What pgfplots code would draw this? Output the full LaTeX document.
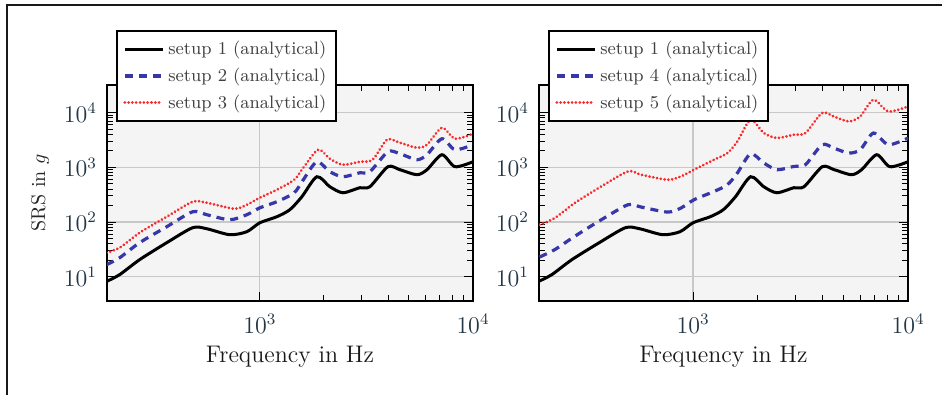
\documentclass[border=0pt]{standalone}
\usepackage{pgfplots}
\pgfplotsset{compat=1.18}
\definecolor{bgc}{RGB}{244,244,244}
\definecolor{gridc}{RGB}{200,200,200}
\definecolor{tickc}{RGB}{35,55,70}
\definecolor{sblue}{RGB}{55,55,170}
\definecolor{sred}{RGB}{250,40,40}
\tikzset{
  sone/.style={black, line width=1.5pt, smooth, tension=0.45},
  stwo/.style={sblue, line width=1.6pt, dash pattern=on 4pt off 3pt, smooth, tension=0.45},
  sthree/.style={sred, line width=1.5pt, dash pattern=on 0.01pt off 1.9pt, line cap=round, smooth, tension=0.45},
}
\pgfplotsset{every axis/.append style={
    scale only axis,
    height=108pt,
    xmin=192, xmax=10000,
    ymin=3.6, ymax=32000,
    axis line style={line width=1pt},
    axis background/.style={fill=bgc},
    grid=major,
    major grid style={gridc, line width=0.6pt},
    xtick={1000,10000},
    ytick={10,100,1000,10000},
    tick style={black, line width=0.5pt},
    ticklabel style={font=\large, text=tickc},
    xticklabel shift=3pt,
    yticklabel shift=1.5pt,
    xlabel={Frequency in Hz},
    xlabel style={font=\large, at={(axis description cs:0.5,0)}, anchor=center, yshift=-28pt, text=black!90},
    legend style={at={(0.025,1.255)}, anchor=north west, font=\small, draw=black, line width=1pt, fill=white, row sep=1.2pt, inner xsep=3pt, inner ysep=3pt, text=black!75, cells={anchor=west}},
    legend image code/.code={\draw[#1] (0pt,0pt) -- (19pt,0pt);},
}}
\begin{document}
\begin{tikzpicture}
\path[use as bounding box] (0,0) rectangle (471pt,197.5pt);
\draw[line width=1pt, black!90] (3.5pt,0) -- (3.5pt,195pt) -- (471pt,195pt);

\begin{loglogaxis}[at={(53.5pt,47pt)}, anchor=south west, width=183pt,
  ylabel={SRS in $g$},
  ylabel style={at={(axis description cs:-0.183,0.5)}, anchor=center, text=black!85}]
\addplot[sone] coordinates {
(191,8.2) (220,10.9) (273,20.5) (366,41.9) (484,78.7) (564,75.4) (723,58.6) (869,66.5)
(1000,97) (1202,125) (1383,168) (1575,290) (1852,673) (2132,442) (2453,343) (2946,424)
(3283,442) (3990,1026) (4541,904) (5458,733) (6081,904) (7148,1700) (8228,1026) (10000,1265)};
\addlegendentry{setup 1 (analytical)}
\addplot[stwo] coordinates {
(191,16.6) (220,22.2) (273,41.9) (366,82) (484,154) (564,136) (723,110) (869,136)
(1000,182) (1202,235) (1450,343) (1600,593) (1852,1265) (2132,831) (2453,673) (2946,796)
(3283,831) (3990,1928) (4541,1774) (5458,1377) (6081,1700) (7148,3334) (8228,2100) (10000,2588)};
\addlegendentry{setup 2 (analytical)}
\addplot[sthree] coordinates {
(191,27.5) (220,33.9) (273,63.7) (366,125) (484,235) (564,225) (760,175) (869,207)
(1000,278) (1202,389) (1450,593) (1600,984) (1880,2100) (2132,1436) (2453,1116) (2946,1265)
(3380,1377) (3950,3199) (4541,2818) (5458,2281) (6081,2588) (7148,5297) (8228,3334) (10000,4115)};
\addlegendentry{setup 3 (analytical)}
\end{loglogaxis}

\begin{loglogaxis}[at={(269.5pt,47pt)}, anchor=south west, width=184.5pt]
\addplot[sone] coordinates {
(191,8.2) (220,10.9) (273,20.5) (366,41.9) (484,78.7) (564,75.4) (723,58.6) (869,66.5)
(1000,97) (1202,125) (1383,168) (1575,290) (1852,673) (2132,442) (2453,343) (2946,424)
(3283,442) (3990,1026) (4541,904) (5458,733) (6081,904) (7148,1700) (8228,1026) (10000,1265)};
\addlegendentry{setup 1 (analytical)}
\addplot[stwo] coordinates {
(193,22.9) (227,31.2) (281,54.6) (374,110) (498,207) (573,188) (762,152) (877,180)
(1011,256) (1251,362) (1445,481) (1607,787) (1853,1774) (2134,1199) (2460,904) (2938,1038)
(3331,1116) (3981,2588) (4508,2254) (5291,1824) (5997,2100) (6906,4236) (8107,2588) (10000,3436)};
\addlegendentry{setup 4 (analytical)}
\addplot[sthree] coordinates {
(193,89) (227,118) (281,222) (374,448) (498,841) (573,733) (762,593) (877,682)
(1011,904) (1251,1377) (1445,1824) (1607,2979) (1853,7413) (2134,4236) (2460,3436) (2938,3948)
(3331,4236) (3981,9840) (4508,8531) (5291,6905) (5997,8531) (6906,17200) (8107,10520) (10000,12970)};
\addlegendentry{setup 5 (analytical)}
\end{loglogaxis}
\end{tikzpicture}
\end{document}
